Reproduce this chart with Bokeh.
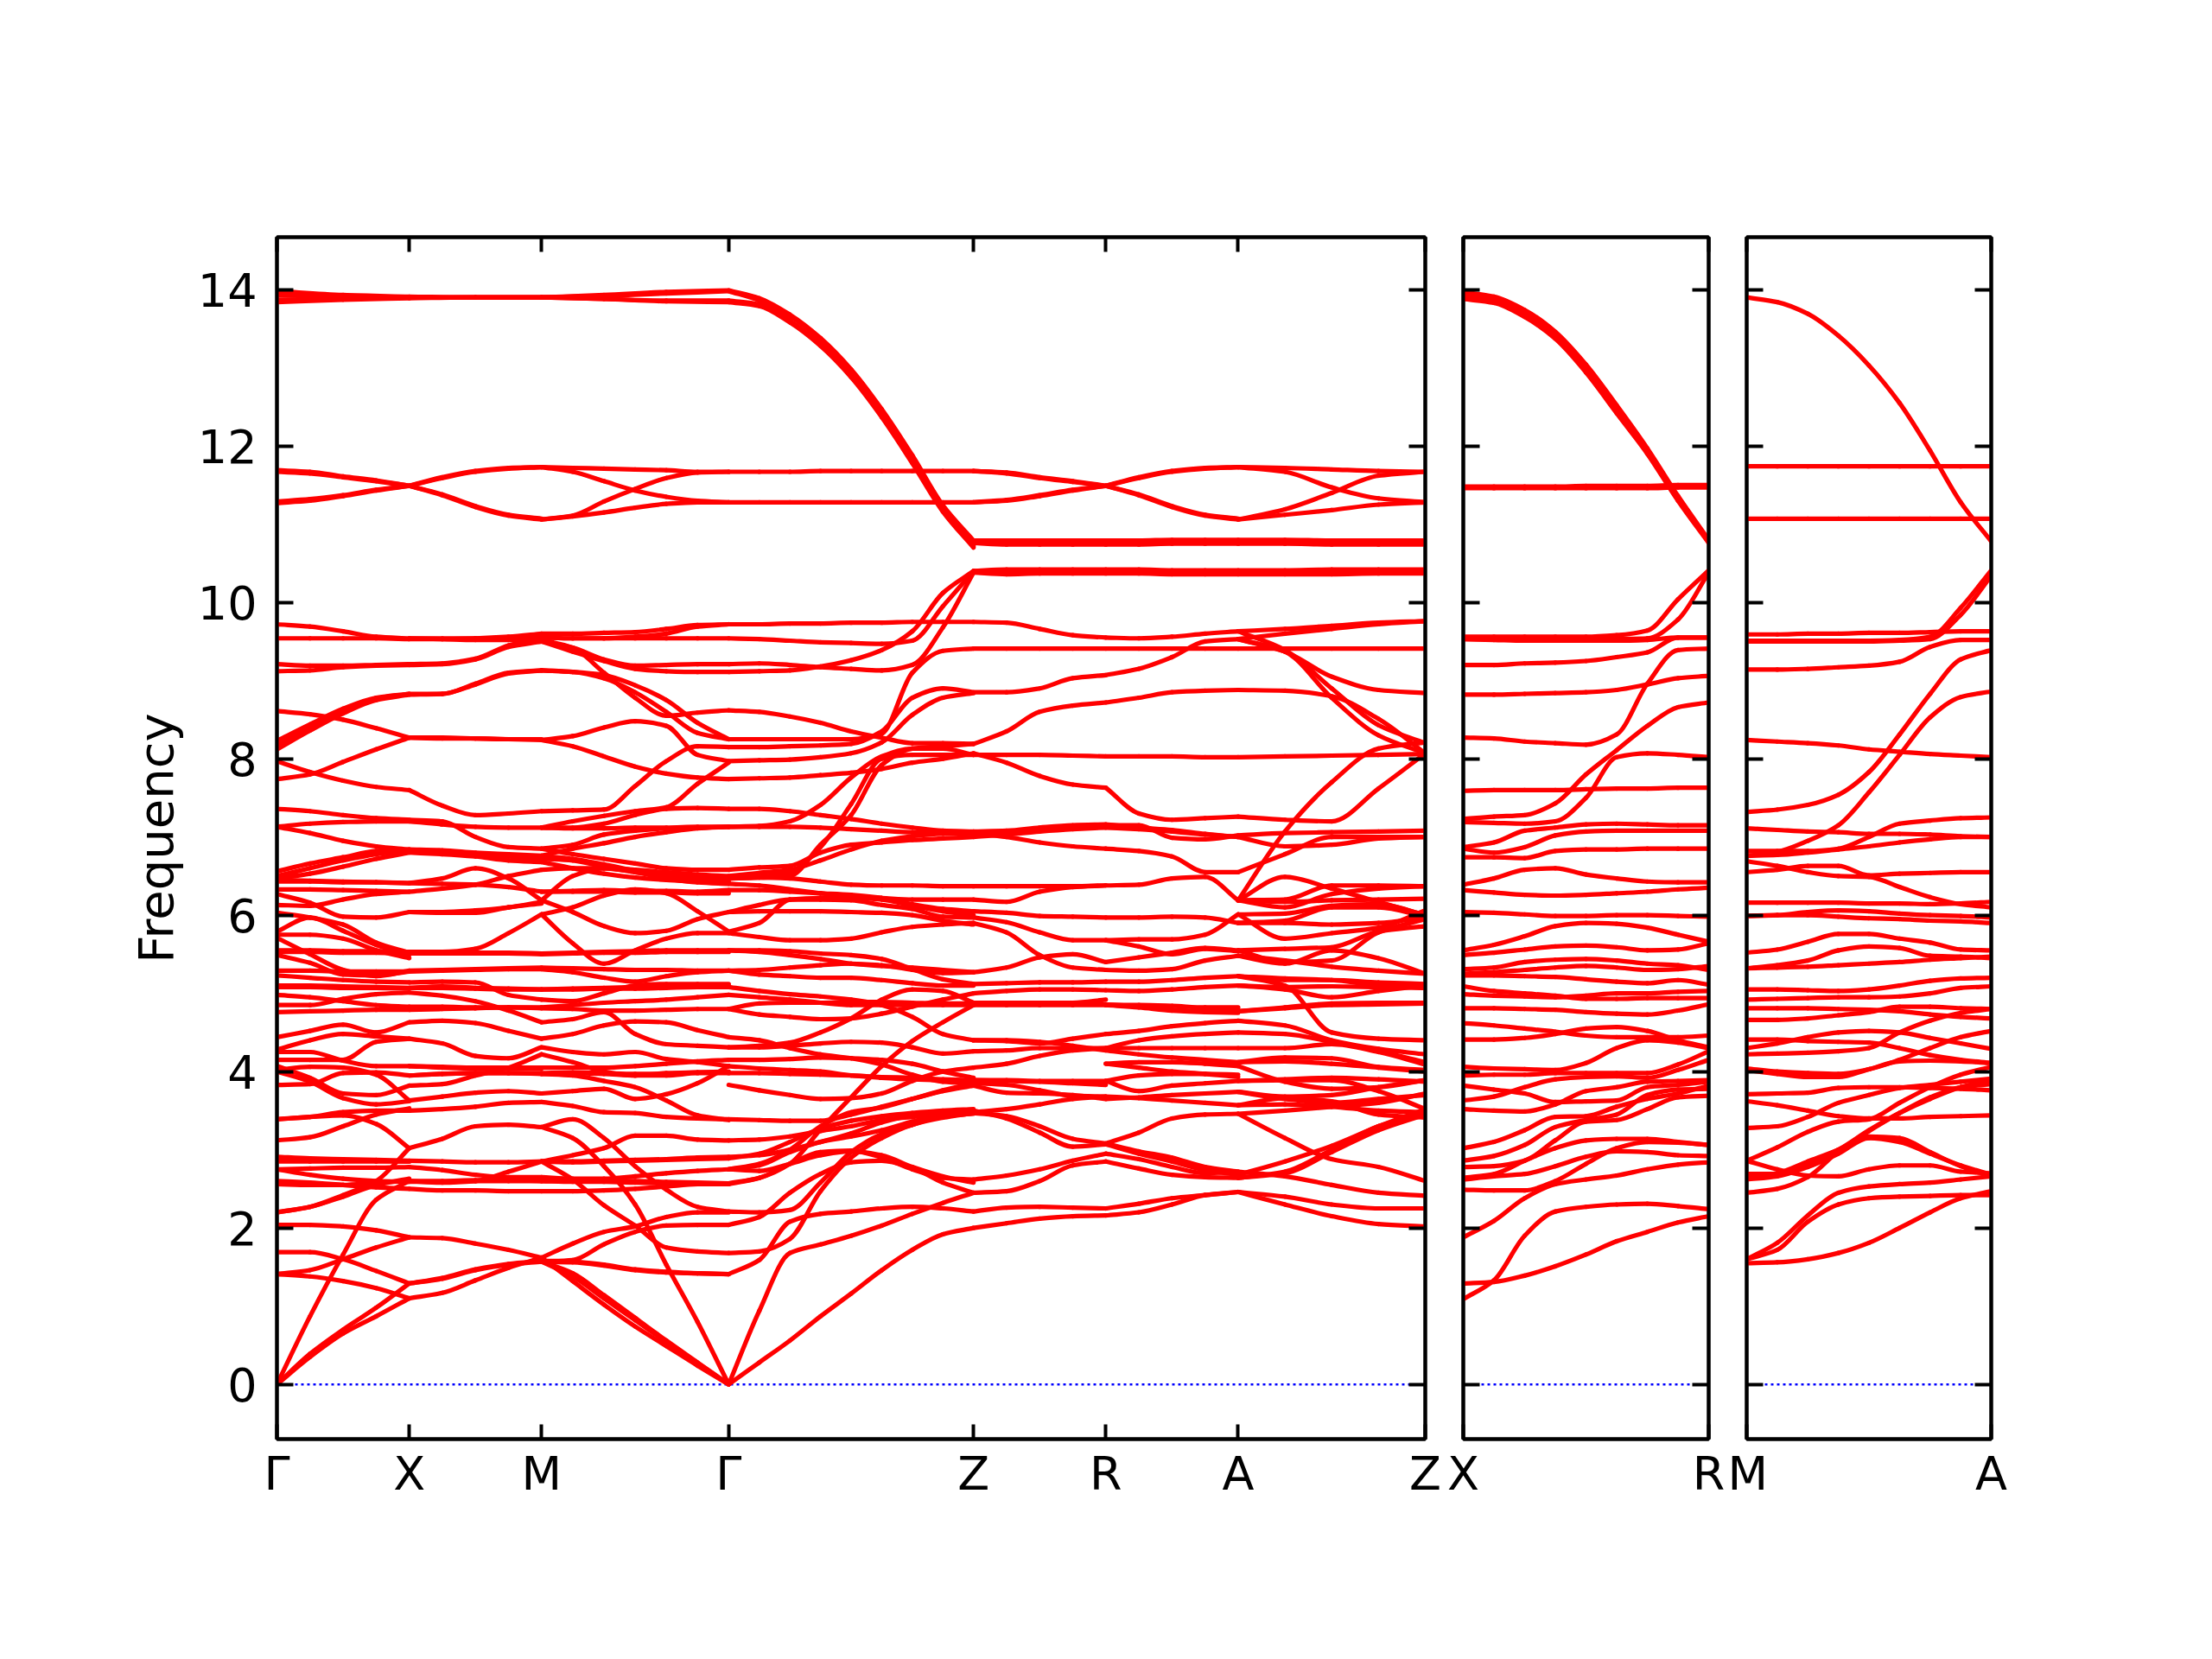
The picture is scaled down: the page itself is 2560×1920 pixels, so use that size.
from bokeh.plotting import figure
from bokeh.layouts import row
from bokeh.models import LinearAxis, FixedTicker, Range1d
from bokeh.embed import file_html
from bokeh.resources import INLINE

y_ticks = [0, 2, 4, 6, 8, 10, 12, 14]
main_kpoints = [0, 1, 2, 3.414, 5.264, 6.264, 7.264, 8.678]
main_klabels = ["Γ", "X", "M", "Γ", "Z", "R", "A", "Z"]

GX = [
 [13.98,13.93,13.91],[13.93,13.91,13.90],[13.87,13.88,13.90],[13.84,13.87,13.89],
 [11.69,11.67,11.61,11.56,11.49],[11.67,11.65,11.60,11.55,11.49],[11.27,11.30,11.36,11.43,11.49],[11.29,11.32,11.37,11.44,11.49],
 [9.72,9.69,9.63,9.56,9.54],[9.54,9.54,9.54,9.54,9.53],[9.21,9.19,9.19,9.20,9.21],[9.12,9.13,9.17,9.19,9.20],
 [8.61,8.57,8.50,8.39,8.27],[8.23,8.44,8.64,8.78,8.83],[8.17,8.40,8.60,8.77,8.83],[8.12,8.36,8.58,8.75,8.82],
 [7.74,7.80,7.96,8.12,8.27],[7.97,7.83,7.72,7.64,7.60],[7.36,7.33,7.28,7.24,7.22],[7.13,7.17,7.19,7.20,7.20],
 [7.13,7.05,6.95,6.88,6.84],[6.56,6.66,6.74,6.82,6.84],[6.50,6.60,6.70,6.78,6.83],[6.47,6.53,6.62,6.72,6.80],
 [6.43,6.43,6.42,6.42,6.41],[6.45,6.44,6.43,6.42,6.41],[6.33,6.33,6.32,6.31,6.30],[6.27,6.16,5.98,5.97,6.04],
 [6.13,6.12,6.20,6.27,6.30],[6.03,5.97,5.88,5.65,5.52],[5.79,5.97,5.80,5.62,5.49],[5.75,5.75,5.70,5.55,5.45],
 [5.71,5.50,5.30,5.22,5.29],[5.55,5.55,5.54,5.54,5.53],[5.53,5.53,5.52,5.52,5.51],[5.49,5.39,5.24,5.23,5.28],
 [5.29,5.29,5.28,5.28,5.28],[5.23,5.20,5.17,5.15,5.14],[5.10,5.10,5.09,5.08,5.07],[5.08,5.08,5.07,5.07,5.06],
 [4.98,4.95,4.90,4.85,4.83],[4.85,4.85,4.93,4.99,5.01],[4.76,4.77,4.78,4.79,4.79],[4.44,4.52,4.60,4.50,4.63],
 [4.28,4.40,4.48,4.45,4.42],[4.25,4.25,4.14,4.07,4.07],[4.15,4.15,4.15,4.38,4.42],[4.07,3.92,3.72,3.70,3.82],
 [4.00,3.87,3.66,3.58,3.62],[3.83,3.84,3.98,3.99,3.95],[4.02,4.06,4.05,3.96,3.63],[3.39,3.42,3.48,3.50,3.50],
 [3.12,3.16,3.30,3.45,3.53],[3.39,3.42,3.44,3.33,3.02],[2.91,2.89,2.88,2.87,2.86],[2.88,2.87,2.86,2.86,2.85],
 [2.85,2.85,2.85,2.85,2.85],[0,0.87,1.66,2.36,2.60],[2.20,2.27,2.42,2.60,3.02],[2.20,2.27,2.40,2.55,2.63],
 [2.75,2.76,2.77,2.77,2.78],[2.60,2.58,2.55,2.52,2.50],[2.56,2.55,2.55,2.58,2.60],[2.75,2.68,2.63,2.60,2.59],
 [2.04,2.04,2.02,1.97,1.88],[1.69,1.69,1.60,1.45,1.29],[1.41,1.38,1.32,1.23,1.10],[1.41,1.46,1.60,1.75,1.88],
 [0,0.39,0.70,0.98,1.29],[0,0.35,0.65,0.87,1.10],
]

XM = [
 [13.91,13.90,13.90],[13.90,13.90,13.90],[13.89,13.90,13.90],
 [11.49,11.60,11.68,11.72,11.73],[11.49,11.59,11.67,11.71,11.73],[11.49,11.37,11.22,11.11,11.06],[11.49,11.38,11.23,11.12,11.07],
 [9.54,9.54,9.54,9.55,9.56],[9.53,9.53,9.54,9.56,9.60],[9.54,9.53,9.52,9.52,9.52],[9.21,9.22,9.28,9.45,9.55],[9.20,9.21,9.27,9.43,9.50],
 [8.83,8.83,8.96,9.10,9.13],[8.82,8.83,8.95,9.09,9.13],[8.27,8.26,8.26,8.25,8.25],[8.28,8.27,8.26,8.25,8.24],
 [7.60,7.40,7.28,7.30,7.33],[7.22,7.20,7.00,6.87,6.85],[7.20,7.16,7.13,7.12,7.12],
 [6.84,6.83,6.80,6.78,6.76],[6.82,6.81,6.78,6.75,6.72],[6.80,6.78,6.75,6.70,6.68],
 [6.41,6.47,6.60,6.47,6.19],[6.30,6.34,6.39,6.50,6.58],[6.41,6.40,6.39,6.36,6.30],[6.08,6.03,6.03,6.10,6.15],[6.06,6.04,6.06,6.10,6.17],
 [5.55,5.53,5.57,5.77,6.01],[5.53,5.53,5.52,5.52,5.51],[5.51,5.51,5.51,5.51,5.50],[5.29,5.30,5.31,5.32,5.33],[5.28,5.29,5.30,5.31,5.31],
 [5.14,5.15,5.14,4.98,4.92],[5.10,5.09,5.07,5.06,5.05],[5.07,5.07,5.06,5.05,5.05],[5.00,4.97,4.90,4.78,4.63],
 [4.83,4.83,4.82,4.82,4.81],[4.79,4.80,4.81,4.82,4.82],[4.63,4.65,4.62,4.52,4.42],[4.42,4.36,4.20,4.17,4.31],
 [4.09,4.06,4.05,4.05,4.05],[4.07,4.05,4.04,4.04,4.04],[3.95,3.97,3.98,3.98,3.97],[3.96,3.97,3.98,3.98,3.98],
 [3.82,3.84,3.95,4.05,4.22],[3.63,3.68,3.73,3.75,3.72],[3.50,3.52,3.55,3.60,3.61],[3.02,3.14,3.30,3.32,3.29],
 [2.86,2.85,2.84,2.84,2.85],[2.78,2.74,2.68,2.65,2.65],[2.60,2.58,2.60,2.72,2.85],[2.60,2.60,2.61,2.61,2.60],[2.59,2.59,2.60,2.60,2.60],
 [2.49,2.48,2.48,2.47,2.47],[1.88,1.87,1.80,1.72,1.62],[1.29,1.35,1.46,1.53,1.57],[1.30,1.36,1.47,1.54,1.58],[1.10,1.17,1.33,1.49,1.62],
]

MG = [
 [13.90,13.93,13.97,13.99],[13.90,13.92,13.95,13.98],[13.90,13.88,13.86,13.86],[13.90,13.88,13.85,13.84],
 [11.73,11.72,11.71,11.70,11.69,11.67,11.67],[11.73,11.67,11.55,11.43,11.35,11.30,11.28],
 [11.05,11.11,11.29,11.45,11.59,11.66,11.67],[11.05,11.10,11.15,11.21,11.26,11.28,11.28],
 [9.60,9.60,9.61,9.62,9.66,9.71,9.72],[9.54,9.54,9.54,9.56,9.60,9.69,9.72],[9.54,9.54,9.54,9.54,9.54,9.54,9.54],
 [9.47,9.42,9.27,9.19,9.20,9.21,9.21],[9.48,9.37,9.25,9.15,9.12,9.11,9.11],[9.52,9.42,9.10,8.78,8.55,8.59,8.62],
 [9.13,9.11,9.07,8.94,8.75,8.46,8.25],[9.13,9.11,9.03,8.85,8.60,8.33,8.25],
 [8.24,8.29,8.40,8.48,8.42,8.05,7.97],[7.33,7.34,7.35,7.65,7.97,8.16,8.15],[7.22,7.20,7.27,7.33,7.38,7.68,7.95],
 [8.24,8.16,8.03,7.90,7.81,7.76,7.74],[7.10,7.12,7.17,7.28,7.36,7.37,7.36],[7.12,7.11,7.11,7.12,7.12,7.13,7.13],
 [6.85,6.90,7.03,7.08,7.11,7.12,7.13],[6.80,6.85,6.92,7.00,7.06,7.11,7.13],
 [6.85,6.78,6.72,6.66,6.60,6.58,6.58],[6.72,6.70,6.62,6.58,6.55,6.52,6.50],[6.76,6.72,6.65,6.57,6.50,6.47,6.47],[6.68,6.60,6.53,6.48,6.45,6.43,6.43],
 [6.58,6.60,6.60,6.55,6.50,6.48,6.46],[6.19,6.50,6.60,6.55,6.47,6.42,6.40],[6.27,6.30,6.30,6.29,6.29,6.28,6.28],[6.28,6.31,6.32,6.31,6.31,6.30,6.32],
 [6.19,6.04,5.86,5.77,5.80,5.95,6.04],[6.01,6.10,6.25,6.33,6.28,6.05,5.79],[6.01,5.64,5.38,5.55,5.70,5.77,5.77],
 [5.51,5.52,5.53,5.54,5.55,5.55,5.55],[5.50,5.51,5.52,5.52,5.53,5.53,5.53],[5.31,5.27,5.20,5.15,5.22,5.27,5.29],[5.33,5.32,5.31,5.30,5.30,5.29,5.29],
 [4.92,4.90,5.00,5.10,5.12,5.12,5.12],[5.05,5.06,5.07,5.08,5.09,5.10,5.10],[5.05,5.05,5.06,5.06,5.07,5.08,5.08],
 [4.63,4.67,4.76,4.48,4.35,4.33,4.31],[4.81,4.80,4.78,4.78,4.79,4.80,4.80],[4.41,4.48,4.59,4.64,4.63,4.53,4.44],[4.82,4.85,4.88,4.90,4.92,4.95,4.98],
 [4.31,4.25,4.22,4.25,4.16,4.12,4.07],[4.22,4.12,4.00,3.95,3.98,3.99,4.00],[4.05,4.05,4.05,4.07,4.10,4.13,4.15],[3.97,3.98,3.97,3.95,3.95,3.98,3.98],
 [3.98,3.99,3.98,3.97,3.97,3.99,3.99],[3.72,3.75,3.78,3.65,3.71,3.85,4.07],[3.61,3.56,3.48,3.47,3.42,3.40,3.39],[3.97,3.95,3.88,3.80,3.63,3.44,3.38],
 [3.29,3.39,3.15,2.79,2.49,2.27,2.21],[3.29,3.15,2.79,2.30,1.53,0.80,0],[2.85,2.62,2.29,2.03,1.75,1.70,1.68],[2.85,2.93,3.02,3.18,3.18,3.13,3.12],
 [2.65,2.63,2.63,2.66,2.70,2.73,2.75],[2.60,2.60,2.60,2.60,2.59,2.58,2.57],[2.59,2.59,2.59,2.58,2.57,2.56,2.56],[2.47,2.47,2.48,2.50,2.53,2.56,2.57],
 [2.85,2.85,2.86,2.87,2.88,2.90,2.91],[2.84,2.84,2.85,2.86,2.87,2.88,2.89],
 [1.62,1.80,1.95,2.02,2.14,2.20,2.20],[1.57,1.59,1.79,1.95,2.03,2.04,2.04],[1.57,1.56,1.52,1.46,1.43,1.42,1.41],[1.58,1.57,1.53,1.47,1.44,1.42,1.41],
 [1.62,1.32,1.02,0.74,0.49,0.24,0],[1.57,1.38,1.10,0.82,0.54,0.27,0],[1.57,1.42,1.14,0.85,0.56,0.28,0],
]

GZ = [
 [13.99,13.89,13.68,13.38,12.98,12.47,11.88,11.24,10.79],[13.95,13.86,13.66,13.36,12.95,12.45,11.86,11.22,10.76],
 [13.87,13.81,13.60,13.30,12.90,12.39,11.80,11.18,10.72],[13.84,13.79,13.58,13.28,12.88,12.37,11.78,11.16,10.70],
 [11.67,11.67,11.67,11.68,11.68,11.68,11.68,11.68,11.68],[11.28,11.28,11.28,11.28,11.28,11.28,11.28,11.28,11.28],
 [9.72,9.72,9.73,9.73,9.74,9.74,9.75,9.75,9.75],[9.54,9.53,9.51,9.49,9.48,9.47,9.51,9.95,10.40],
 [9.22,9.22,9.20,9.17,9.15,9.13,9.20,9.68,10.38],[9.11,9.12,9.13,9.18,9.26,9.39,9.63,10.12,10.40],
 [8.62,8.60,8.54,8.46,8.35,8.27,8.20,8.20,8.19],[8.25,8.25,8.25,8.25,8.25,8.32,9.10,9.38,9.41],
 [8.15,8.15,8.16,8.17,8.19,8.35,8.78,8.90,8.85],[7.97,7.98,7.99,8.02,8.07,8.21,8.56,8.78,8.84],
 [7.74,7.75,7.76,7.79,7.82,7.87,7.95,8.00,8.07],[7.13,7.14,7.20,7.41,7.76,8.03,8.13,8.13,8.05],
 [7.36,7.36,7.33,7.28,7.23,7.17,7.12,7.08,7.07],[7.13,7.13,7.13,7.12,7.10,7.08,7.06,7.05,7.05],
 [6.60,6.61,6.63,6.80,6.90,6.93,6.96,6.98,7.00],[6.52,6.54,6.58,6.70,6.84,6.95,7.01,7.04,7.05],
 [6.47,6.48,6.50,6.90,7.28,7.92,8.13,8.16,8.19],[6.47,6.49,6.55,6.87,7.42,8.00,8.05,8.05,8.05],
 [6.47,6.48,6.47,6.43,6.39,6.38,6.38,6.37,6.37],[6.40,6.38,6.33,6.28,6.24,6.22,6.20,6.20,6.20],[6.32,6.32,6.30,6.28,6.26,6.22,6.14,6.08,6.05],
 [6.13,6.13,6.20,6.20,6.19,6.13,6.08,5.98,5.97],[6.05,6.05,6.05,6.05,6.04,6.03,6.00,5.93,5.88],[5.79,5.90,6.20,6.22,6.22,6.20,6.12,6.05,6.00],
 [5.77,5.72,5.68,5.68,5.70,5.78,5.85,5.88,5.90],[5.57,5.55,5.54,5.51,5.49,5.44,5.31,5.18,5.12],[5.55,5.53,5.49,5.44,5.38,5.35,5.33,5.30,5.27],
 [5.27,5.30,5.33,5.36,5.38,5.36,5.30,5.26,5.27],[5.25,5.24,5.22,5.20,5.20,5.17,5.13,5.10,5.10],[5.07,5.03,4.99,4.96,4.92,4.85,4.70,4.48,4.40],
 [4.85,4.87,4.88,4.88,4.89,4.89,4.88,4.87,4.87],[4.98,4.95,4.92,4.88,4.85,4.85,4.85,4.85,4.85],[4.31,4.33,4.37,4.50,4.68,4.92,5.05,5.03,4.88],
 [4.76,4.73,4.70,4.67,4.68,4.74,4.83,4.92,5.00],[4.44,4.40,4.30,4.22,4.17,4.09,3.96,3.87,3.85],[4.30,4.31,4.33,4.36,4.38,4.37,4.31,4.23,4.26],
 [4.15,4.15,4.16,4.18,4.17,4.15,4.10,4.00,3.92],[4.06,4.04,4.02,4.00,3.95,3.92,3.90,3.89,3.88],[3.98,3.98,3.97,3.96,3.95,3.93,3.92,3.90,3.89],
 [3.83,3.76,3.70,3.65,3.66,3.72,3.88,4.00,4.05],
 [0,0.94,1.68,1.79,1.90,2.03,2.18,2.32,2.45],[0,0.28,0.56,0.87,1.16,1.46,1.72,1.92,2.00],
 [1.68,1.70,1.86,2.47,2.90,3.15,3.32,3.41,3.47],[1.40,1.59,2.08,2.18,2.21,2.25,2.27,2.25,2.21],
 [2.04,2.14,2.45,2.69,2.84,2.86,2.77,2.58,2.45],[2.21,2.20,2.23,2.58,2.97,3.20,3.32,3.43,3.46],
 [2.69,2.73,2.82,2.93,2.98,2.93,2.78,2.66,2.58],[3.12,3.13,3.17,3.24,3.30,3.38,3.42,3.46,3.48],
 [2.91,2.93,3.00,3.10,3.21,3.35,3.44,3.47,3.50],[2.77,2.82,3.00,3.30,3.48,3.54,3.65,3.76,3.85],
 [2.56,2.64,2.82,3.26,3.67,4.07,4.39,4.63,4.85],[2.58,2.64,2.82,2.97,2.99,2.90,2.75,2.64,2.62],
 [2.75,2.80,2.97,3.10,3.17,3.25,3.36,3.45,3.48],[3.39,3.38,3.37,3.37,3.45,3.55,3.65,3.75,3.82],
 [2.88,2.95,3.10,3.27,3.37,3.43,3.47,3.50,3.52],
]

ZR = [
 [11.68,11.66,11.60,11.55,11.49],[11.67,11.65,11.59,11.54,11.49],[11.28,11.30,11.36,11.43,11.49],[11.28,11.31,11.37,11.44,11.49],
 [10.79,10.79,10.79,10.79,10.79],[10.76,10.76,10.77,10.77,10.77],[10.74,10.74,10.74,10.74,10.74],
 [10.42,10.42,10.42,10.42,10.42],[10.39,10.39,10.39,10.39,10.39],[10.36,10.36,10.37,10.37,10.37],
 [9.76,9.74,9.66,9.58,9.55],[9.41,9.41,9.41,9.41,9.41],[8.85,8.85,8.90,9.03,9.07],[8.19,8.35,8.60,8.68,8.72],
 [8.07,7.95,7.78,7.67,7.63],[8.05,8.05,8.05,8.04,8.03],[7.07,7.08,7.12,7.15,7.16],[7.05,7.07,7.10,7.13,7.15],[7.05,7.00,6.93,6.88,6.85],[7.00,7.03,7.07,7.10,7.12],
 [6.37,6.37,6.37,6.37,6.38],[6.20,6.17,6.30,6.36,6.38],[6.08,6.03,5.99,5.98,5.97],[5.97,5.91,5.78,5.68,5.68],[5.90,5.78,5.49,5.33,5.30],[5.27,5.33,5.46,5.50,5.40],
 [5.12,5.13,5.14,5.14,5.15],[5.00,5.03,5.05,5.05,5.04],[4.87,4.88,4.87,4.86,4.86],[4.85,4.85,4.85,4.85,4.85],[4.88,4.88,4.88,4.88,4.92],
 [4.40,4.39,4.36,4.42,4.48],[4.40,4.40,4.38,4.33,4.27],[4.26,4.27,4.30,4.30,4.30],[4.02,4.10,4.20,4.27,4.30],[3.90,3.88,3.87,3.85,3.83],[3.89,3.89,3.88,3.88,3.88],
 [3.85,3.83,3.76,3.69,3.68],[3.72,3.73,3.72,3.70,3.65],[3.48,3.52,3.58,3.65,3.68],[3.47,3.43,3.30,3.14,3.08],[3.50,3.40,3.22,3.04,3.07],
 [2.62,2.67,2.75,2.86,2.95],[2.45,2.47,2.60,2.80,2.85],[2.23,2.26,2.27,2.26,2.25],[2.00,2.06,2.12,2.15,2.16],
]

RA = [
 [11.49,11.60,11.68,11.72,11.73],[11.49,11.59,11.67,11.71,11.73],[11.49,11.37,11.22,11.11,11.06],[11.49,11.38,11.23,11.12,11.07],
 [10.79,10.79,10.80,10.80,10.80],[10.77,10.77,10.78,10.78,10.78],[10.74,10.74,10.75,10.75,10.75],
 [10.42,10.42,10.41,10.41,10.41],[10.39,10.39,10.38,10.38,10.38],[10.37,10.37,10.36,10.36,10.36],
 [9.55,9.54,9.56,9.60,9.63],[9.41,9.41,9.41,9.41,9.41],[9.07,9.15,9.30,9.50,9.53],[8.72,8.78,8.85,8.87,8.88],
 [7.63,7.30,7.22,7.24,7.26],[8.03,8.03,8.03,8.02,8.02],[7.16,7.12,7.09,7.04,7.00],[7.15,7.15,6.99,6.97,7.02],[7.12,7.10,7.07,7.03,7.00],[6.85,6.82,6.75,6.55,6.55],
 [6.38,6.39,6.47,6.49,6.19],[5.97,5.97,5.98,5.97,5.90],[5.68,5.69,5.69,5.75,6.01],[5.68,5.60,5.50,5.57,5.54],[5.40,5.46,5.52,5.58,5.55],[5.30,5.29,5.31,5.42,5.48],
 [5.14,5.15,5.17,5.20,5.22],[5.04,5.03,5.05,5.08,5.10],[4.85,4.82,4.78,4.76,4.75],[4.86,4.83,4.79,4.77,4.77],[4.85,4.85,4.84,4.82,4.82],
 [4.48,4.52,4.58,4.62,4.65],[4.36,4.40,4.45,4.48,4.50],[4.30,4.30,4.30,4.30,4.30],[4.27,4.22,4.18,4.15,4.12],[4.10,4.05,4.00,3.97,3.93],[4.10,4.12,4.12,4.10,4.07],
 [3.87,3.75,3.82,3.85,3.88],[3.88,3.95,3.97,3.97,3.96],[3.68,3.66,3.63,3.60,3.57],[3.66,3.67,3.70,3.72,3.74],[3.08,3.22,3.40,3.45,3.46],
 [3.08,2.98,2.90,2.78,2.72],[3.03,2.95,2.85,2.74,2.68],[2.95,2.88,2.78,2.70,2.72],[2.85,2.76,2.68,2.65,2.64],[2.25,2.31,2.38,2.42,2.46],[2.16,2.20,2.30,2.42,2.46],
]

AZ = [
 [11.73,11.72,11.70,11.68,11.67],[11.73,11.67,11.47,11.33,11.28],[11.06,11.19,11.40,11.62,11.67],[11.06,11.12,11.18,11.25,11.28],
 [10.80,10.80,10.79,10.79,10.79],[10.78,10.78,10.77,10.77,10.76],[10.75,10.75,10.74,10.74,10.74],
 [10.41,10.41,10.42,10.42,10.42],[10.38,10.38,10.39,10.39,10.39],[10.36,10.36,10.36,10.37,10.37],
 [9.63,9.39,8.90,8.43,8.20],[9.52,9.37,8.78,8.30,8.07],[9.53,9.60,9.66,9.72,9.76],[9.63,9.66,9.70,9.74,9.76],[9.41,9.41,9.41,9.41,9.41],
 [9.55,9.37,9.05,8.88,8.84],[8.88,8.87,8.80,8.51,8.07],[8.02,8.03,8.04,8.05,8.06],[6.15,7.07,7.70,8.13,8.21],[7.25,7.22,7.20,7.62,8.07],
 [7.02,7.05,7.06,7.07,7.08],[7.00,6.88,6.90,6.98,7.00],[6.55,6.78,7.00,7.00,7.00],
 [6.19,6.49,6.34,6.17,6.00],[6.19,6.20,6.38,6.38,6.37],[6.19,6.17,6.19,6.20,6.21],[6.14,6.10,6.27,6.34,6.37],[6.00,6.02,6.12,6.14,6.00],[5.88,5.93,6.10,6.10,5.98],
 [6.01,5.70,5.77,5.84,6.06],[5.88,5.90,5.88,5.90,5.97],[5.57,5.57,5.59,5.79,5.86],[5.55,5.40,5.42,5.78,5.95],[5.49,5.38,5.55,5.45,5.25],[5.48,5.42,5.34,5.29,5.25],
 [5.20,5.19,5.17,5.10,5.07],[5.20,5.17,5.17,5.14,5.12],[5.09,5.08,5.09,5.08,5.07],[5.07,5.05,4.95,5.03,5.10],[4.78,4.82,4.87,4.88,4.88],[4.77,4.81,4.85,4.86,4.87],
 [4.66,4.59,4.40,4.29,4.22],[5.20,5.10,4.50,4.42,4.40],[4.50,4.48,4.38,4.26,4.12],[4.30,4.30,4.35,4.25,4.09],[4.15,4.18,4.17,4.06,4.02],[4.15,4.13,4.10,4.05,4.00],
 [4.03,3.87,3.78,3.80,3.89],[3.89,3.90,3.92,3.90,3.87],[3.90,3.89,3.89,3.75,3.52],[3.78,3.68,3.70,3.80,3.89],[3.76,3.65,3.60,3.65,3.70],[3.61,3.66,3.62,3.45,3.41],
 [3.59,3.58,3.55,3.50,3.48],[3.45,3.50,3.55,3.60,3.72],[3.45,3.15,2.88,2.78,2.60],[2.69,2.85,3.05,3.30,3.52],[2.65,2.72,3.00,3.30,3.47],[2.64,2.70,2.97,3.25,3.45],
 [2.70,2.66,2.55,2.45,2.41],[2.46,2.40,2.30,2.25,2.25],[2.44,2.30,2.15,2.05,2.02],
]

XR = [
 [13.97,13.91,13.74,13.46,13.04,12.52,11.97,11.36,10.80],[13.93,13.87,13.69,13.41,12.99,12.47,11.94,11.33,10.78],[13.88,13.83,13.65,13.37,12.94,12.42,11.90,11.30,10.76],
 [11.48,11.48,11.48,11.48,11.49,11.49,11.49,11.50,11.50],[11.46,11.46,11.46,11.46,11.46,11.46,11.46,11.47,11.47],
 [9.56,9.56,9.56,9.56,9.56,9.58,9.64,10.04,10.41],[9.53,9.53,9.52,9.51,9.52,9.53,9.54,9.78,10.38],[9.53,9.52,9.51,9.51,9.51,9.51,9.52,9.55,9.55],
 [9.20,9.20,9.22,9.23,9.25,9.30,9.36,9.55,9.55],[8.82,8.82,8.83,8.84,8.85,8.88,8.95,9.03,9.06],[8.27,8.26,8.22,8.20,8.18,8.31,8.96,9.39,9.41],
 [7.23,7.26,7.28,7.43,7.80,8.11,8.42,8.66,8.72],[7.19,7.18,7.17,7.20,7.50,8.02,8.07,8.05,8.02],[7.59,7.60,7.60,7.60,7.61,7.62,7.62,7.63,7.63],
 [6.87,6.93,7.08,7.12,7.16,7.17,7.16,7.15,7.15],[6.85,6.80,6.87,7.02,7.07,7.08,7.08,7.08,7.08],[6.74,6.74,6.73,6.82,6.84,6.84,6.85,6.85,6.85],
 [6.39,6.47,6.58,6.60,6.52,6.47,6.43,6.42,6.42],[6.32,6.29,6.26,6.25,6.26,6.28,6.30,6.33,6.35],[6.04,6.03,6.01,5.99,5.99,6.00,6.00,5.99,5.98],
 [5.55,5.62,5.73,5.86,5.90,5.89,5.84,5.75,5.66],[5.49,5.52,5.56,5.60,5.61,5.59,5.55,5.56,5.64],[5.31,5.33,5.40,5.43,5.44,5.42,5.38,5.36,5.30],[5.25,5.27,5.30,5.33,5.35,5.33,5.30,5.31,5.35],
 [5.23,5.23,5.22,5.21,5.18,5.15,5.13,5.17,5.11],[5.09,5.03,5.00,4.97,4.93,4.93,4.94,4.94,4.94],[4.99,4.97,4.96,4.95,4.97,5.00,5.00,5.02,5.03],[4.81,4.81,4.80,4.79,4.76,4.74,4.73,4.78,4.86],
 [4.62,4.59,4.55,4.51,4.46,4.44,4.44,4.44,4.46],[4.41,4.41,4.43,4.48,4.55,4.57,4.52,4.40,4.31],[4.06,4.04,4.03,4.02,4.11,4.30,4.40,4.37,4.30],[3.95,3.96,3.96,3.98,3.98,3.98,3.98,4.09,4.26],
 [3.63,3.68,3.80,3.90,3.93,3.94,3.92,4.02,4.15],[3.82,3.77,3.72,3.61,3.62,3.63,3.80,3.83,3.87],[3.52,3.50,3.49,3.58,3.75,3.80,3.87,3.88,3.89],
 [3.02,3.10,3.25,3.42,3.43,3.55,3.65,3.72,3.82],[2.86,2.92,3.06,3.29,3.38,3.45,3.70,3.77,3.78],[2.78,2.79,2.86,3.12,3.36,3.38,3.52,3.67,3.69],
 [2.64,2.69,2.86,3.02,3.12,3.14,3.14,3.10,3.06],[2.62,2.66,2.69,2.79,2.91,2.98,2.97,2.93,2.92],[2.49,2.48,2.48,2.60,2.82,3.02,3.10,3.09,3.06],
 [1.88,2.09,2.38,2.56,2.62,2.67,2.75,2.81,2.84],[1.09,1.33,1.90,2.21,2.27,2.30,2.31,2.28,2.24],[1.29,1.31,1.39,1.51,1.66,1.83,1.95,2.07,2.15],
]

MA = [
 [13.90,13.84,13.69,13.41,13.03,12.55,11.94,11.28,10.78],
 [11.74,11.74,11.74,11.74,11.74,11.74,11.74,11.74,11.74],[11.07,11.07,11.07,11.07,11.07,11.07,11.07,11.07,11.07],
 [9.59,9.59,9.60,9.60,9.61,9.61,9.62,9.63,9.63],[9.51,9.51,9.51,9.51,9.51,9.52,9.56,9.93,10.41],[9.50,9.50,9.50,9.50,9.50,9.51,9.53,9.84,10.34],
 [9.14,9.14,9.15,9.17,9.19,9.24,9.43,9.52,9.52],[8.24,8.22,8.20,8.17,8.12,8.09,8.06,8.04,8.02],[7.32,7.35,7.41,7.54,7.83,8.31,8.83,9.27,9.39],
 [6.76,6.81,6.95,7.15,7.57,8.05,8.53,8.79,8.86],[7.11,7.09,7.07,7.06,7.04,7.04,7.03,7.01,7.00],[6.82,6.82,6.82,6.85,7.00,7.17,7.21,7.24,7.25],
 [6.76,6.77,6.80,6.84,6.88,6.93,6.97,7.00,7.00],[6.69,6.63,6.55,6.50,6.49,6.36,6.23,6.14,6.10],[6.55,6.58,6.63,6.63,6.51,6.53,6.54,6.55,6.55],
 [6.16,6.16,6.16,6.16,6.15,6.15,6.14,6.15,6.17],[5.99,6.00,6.04,6.06,6.05,6.02,6.00,5.99,5.97],[5.99,6.00,6.00,5.98,5.96,5.95,5.93,5.92,5.90],
 [5.52,5.56,5.66,5.76,5.76,5.70,5.65,5.56,5.55],[5.32,5.36,5.42,5.55,5.60,5.58,5.48,5.47,5.45],[5.32,5.33,5.34,5.36,5.38,5.40,5.43,5.45,5.47],
 [5.05,5.05,5.04,5.03,5.05,5.10,5.16,5.19,5.20],[4.92,4.93,4.94,4.95,4.95,4.96,5.00,5.07,5.09],[4.81,4.81,4.81,4.80,4.79,4.77,4.73,4.70,4.68],[4.66,4.66,4.68,4.72,4.76,4.83,4.83,4.81,4.80],
 [4.41,4.41,4.39,4.38,4.37,4.30,4.21,4.15,4.11],[4.30,4.36,4.44,4.50,4.52,4.50,4.43,4.36,4.29],[4.22,4.23,4.24,4.26,4.30,4.50,4.65,4.75,4.80],
 [4.04,4.00,3.98,3.97,4.03,4.15,4.30,4.44,4.52],[4.02,3.97,3.93,3.93,4.03,4.13,4.14,4.13,4.11],[3.71,3.72,3.73,3.79,3.80,3.80,3.79,3.78,3.76],
 [3.62,3.57,3.50,3.43,3.40,3.40,3.42,3.43,3.44],[3.28,3.30,3.42,3.60,3.70,3.79,3.83,3.87,3.91],
 [2.86,3.03,3.23,3.36,3.39,3.60,3.80,3.96,4.06],[2.69,2.69,2.82,3.00,3.25,3.47,3.65,3.80,3.89],[2.45,2.50,2.65,2.98,3.24,3.47,3.67,3.80,3.84],
 [2.64,2.70,2.85,3.00,3.17,3.15,2.97,2.79,2.66],[2.86,2.75,2.67,2.66,2.75,2.80,2.80,2.72,2.70],[2.62,2.66,2.78,2.95,3.15,3.10,2.95,2.80,2.68],
 [1.60,1.81,2.16,2.45,2.53,2.56,2.58,2.62,2.66],[1.60,1.72,2.08,2.30,2.38,2.40,2.41,2.42,2.42],[1.55,1.56,1.60,1.68,1.81,2.00,2.20,2.38,2.47],
]

main_segments = [(0, 1, GX), (1, 2, XM), (2, 3.414, MG), (3.414, 5.264, GZ), (5.264, 6.264, ZR), (6.264, 7.264, RA), (7.264, 8.678, AZ)]

Y0, Y1 = -0.70, 14.67
FONT = "DejaVu Sans"
FS = "54px"


def join_nodes(segments):
    """Close small reading gaps where a band leaves a high-symmetry point."""
    out = []
    prev_ends = None
    for k0, k1, bands in segments:
        fixed = []
        for b in bands:
            b = list(b)
            if prev_ends:
                near = min(prev_ends, key=lambda e: abs(e - b[0]))
                if abs(near - b[0]) < 0.12:
                    b[0] = near
            fixed.append(b)
        out.append((k0, k1, fixed))
        prev_ends = [b[-1] for b in fixed]
    return out


def bezier_columns(segments):
    """Draw each band through its read values as a smooth path, without overshoot."""
    c = {k: [] for k in ("x0", "y0", "x1", "y1", "cx0", "cy0", "cx1", "cy1")}
    for k0, k1, bands in join_nodes(segments):
        for b in bands:
            n = len(b)
            h = (k1 - k0) / (n - 1)
            d = [(b[i + 1] - b[i]) / h for i in range(n - 1)]
            m = [d[0]] + [
                0.0 if d[i - 1] * d[i] <= 0 else 2 * d[i - 1] * d[i] / (d[i - 1] + d[i])
                for i in range(1, n - 1)
            ] + [d[-1]]
            for i in range(n - 1):
                xa = k0 + i * h
                c["x0"].append(xa)
                c["y0"].append(b[i])
                c["x1"].append(xa + h)
                c["y1"].append(b[i + 1])
                c["cx0"].append(xa + h / 3)
                c["cy0"].append(b[i] + m[i] * h / 3)
                c["cx1"].append(xa + 2 * h / 3)
                c["cy1"].append(b[i + 1] - m[i + 1] * h / 3)
    return c


def decorate(p, kpoints, klabels, show_y):
    blank = {t: "" for t in y_ticks}
    for side in ("left", "right"):
        ax = LinearAxis(ticker=FixedTicker(ticks=y_ticks))
        ax.major_tick_in = 19
        ax.major_tick_out = 0
        ax.minor_tick_line_color = None
        ax.major_tick_line_width = 4
        ax.axis_line_width = 4
        ax.major_label_text_font = FONT
        ax.major_label_text_font_size = FS
        ax.major_label_text_color = "black"
        ax.major_label_standoff = 23
        if not (show_y and side == "left"):
            ax.major_label_text_font_size = "0px"
            ax.major_label_overrides = blank
            ax.major_label_standoff = 0
        else:
            ax.axis_label = "Frequency"
            ax.axis_label_text_font = FONT
            ax.axis_label_text_font_size = "56px"
            ax.axis_label_text_font_style = "normal"
            ax.axis_label_text_color = "black"
            ax.axis_label_standoff = 13
        p.add_layout(ax, side)
    for side in ("below", "above"):
        ax = LinearAxis(ticker=FixedTicker(ticks=kpoints))
        ax.major_tick_in = 17
        ax.major_tick_out = 0
        ax.minor_tick_line_color = None
        ax.major_tick_line_width = 4
        ax.axis_line_width = 4
        if side == "below":
            ax.major_label_overrides = dict(zip(kpoints, klabels))
            ax.major_label_text_font = FONT
            ax.major_label_text_font_size = FS
            ax.major_label_text_color = "black"
            ax.major_label_standoff = 8
        else:
            ax.major_label_overrides = {k: "" for k in kpoints}
            ax.major_label_text_font_size = "0px"
            ax.major_label_standoff = 0
        p.add_layout(ax, side)


def panel(segments, kpoints, klabels, frame_w, left, right, show_y=False):
    fh = 1391
    top, bottom = 274, 200
    p = figure(width=frame_w + left + right, height=fh + top + bottom,
               frame_width=frame_w, frame_height=fh,
               x_range=Range1d(kpoints[0], kpoints[-1]), y_range=Range1d(Y0, Y1),
               output_backend="svg", toolbar_location=None,
               x_axis_type=None, y_axis_type=None,
               min_border_left=left, min_border_right=right,
               min_border_top=top, min_border_bottom=bottom,
               background_fill_color="white", border_fill_color="white")
    p.xgrid.visible = False
    p.ygrid.visible = False
    p.outline_line_color = "black"
    p.outline_line_width = 4
    p.line(kpoints[:1] + kpoints[-1:], [0, 0], line_color="blue", line_width=2.5, line_dash="3 4")
    cols = bezier_columns(segments)
    p.bezier(x0=cols["x0"], y0=cols["y0"], x1=cols["x1"], y1=cols["y1"],
             cx0=cols["cx0"], cy0=cols["cy0"], cx1=cols["cx1"], cy1=cols["cy1"],
             line_color="#ff0000", line_width=5.2, line_cap="round")
    decorate(p, kpoints, klabels, show_y)
    return p


p1 = panel(main_segments, main_kpoints, main_klabels, 1329, 320, 22, show_y=True)
p2 = panel([(0, 1.85, XR)], [0, 1.85], ["X", "R"], 284, 22, 22)
p3 = panel([(0, 1.85, MA)], [0, 1.85], ["M", "A"], 283, 22, 200)

layout = row(p1, p2, p3, spacing=0)
open("out.html", "w").write(file_html(layout, INLINE))
